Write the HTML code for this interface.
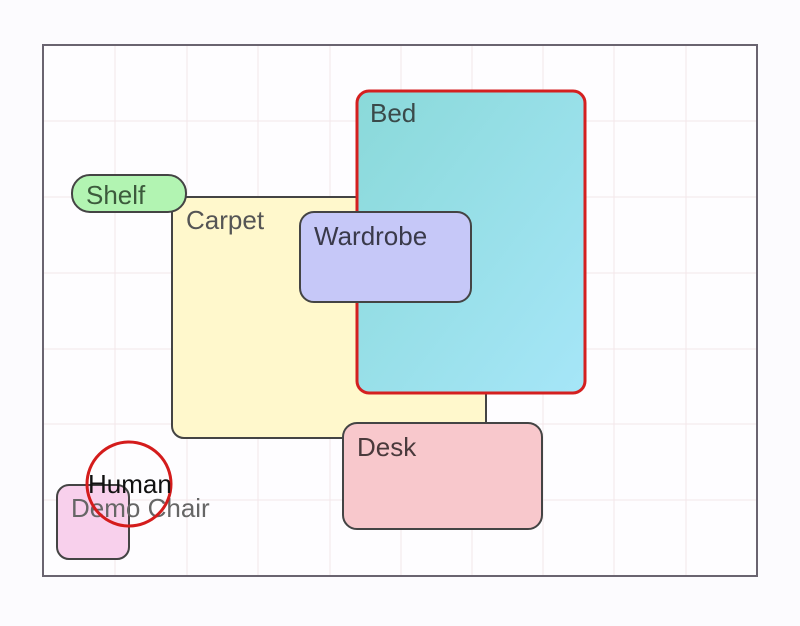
<!DOCTYPE html>
<html><head><style>
body{margin:0;background:#fcfbfe;width:800px;height:621px;overflow:hidden}
</style></head><body>
<svg width="800" height="621" xmlns="http://www.w3.org/2000/svg" font-family="Liberation Sans, sans-serif">
<defs><linearGradient id="g" x1="0" y1="0" x2="1" y2="1"><stop offset="0" stop-color="#8ad9d9"/><stop offset="1" stop-color="#a6e6f8"/></linearGradient></defs>
<rect x="43" y="45" width="714" height="531" fill="#fefdff"/>
<g stroke="#f3e6ea" stroke-width="1">
<line x1="115" y1="45" x2="115" y2="576"/><line x1="187" y1="45" x2="187" y2="576"/><line x1="258" y1="45" x2="258" y2="576"/><line x1="330" y1="45" x2="330" y2="576"/><line x1="401" y1="45" x2="401" y2="576"/><line x1="472" y1="45" x2="472" y2="576"/><line x1="543" y1="45" x2="543" y2="576"/><line x1="614" y1="45" x2="614" y2="576"/><line x1="686" y1="45" x2="686" y2="576"/>
<line x1="43" y1="121" x2="757" y2="121"/><line x1="43" y1="197" x2="757" y2="197"/><line x1="43" y1="273" x2="757" y2="273"/><line x1="43" y1="349" x2="757" y2="349"/><line x1="43" y1="424" x2="757" y2="424"/><line x1="43" y1="500" x2="757" y2="500"/>
</g>
<rect x="43" y="45" width="714" height="531" fill="none" stroke="#6a6470" stroke-width="2"/>
<rect x="172" y="197" width="314" height="241" rx="12" fill="#fff8cc" stroke="#444" stroke-width="2"/>
<text x="186" y="229" font-size="26" fill="#555">Carpet</text>
<rect x="357" y="91" width="228" height="302" rx="12" fill="url(#g)" stroke="#d42020" stroke-width="3"/>
<text x="370" y="122" font-size="26" fill="#3a4a4a">Bed</text>
<rect x="72" y="175" width="114" height="37" rx="18" fill="#b2f4b2" stroke="#444" stroke-width="2"/>
<text x="86" y="204" font-size="26" fill="#3c5a3c">Shelf</text>
<rect x="300" y="212" width="171" height="90" rx="14" fill="#c6c8f8" stroke="#444" stroke-width="2"/>
<text x="314" y="245" font-size="26" fill="#3a3a4a">Wardrobe</text>
<rect x="343" y="423" width="199" height="106" rx="14" fill="#f8c8cc" stroke="#444" stroke-width="2"/>
<text x="357" y="456" font-size="26" fill="#4a3a3c">Desk</text>
<rect x="57" y="485" width="72" height="74" rx="12" fill="#f8d0ec" stroke="#444" stroke-width="2"/>
<text x="71" y="517" font-size="26" fill="#666">Demo Chair</text>
<circle cx="129" cy="484" r="42" fill="none" stroke="#d41c1c" stroke-width="3"/>
<text x="88" y="493" font-size="26" fill="#111">Human</text>
</svg>
</body></html>
